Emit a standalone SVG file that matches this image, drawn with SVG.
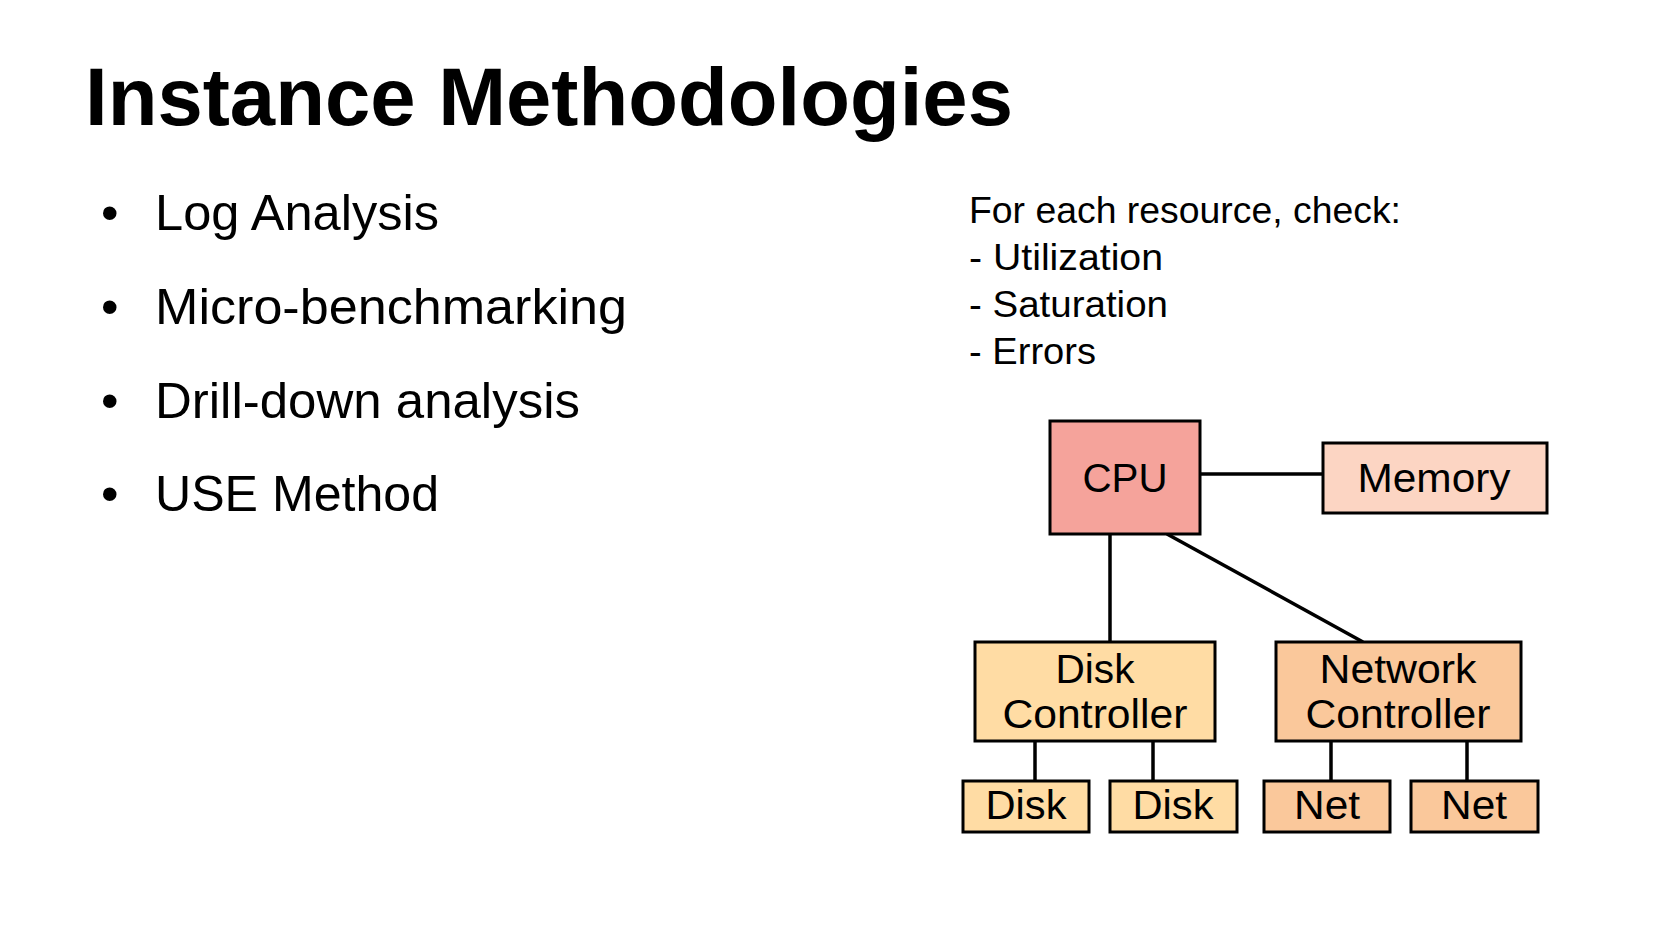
<svg xmlns="http://www.w3.org/2000/svg" width="1654" height="931" viewBox="0 0 1654 931">
<style>
text{font-family:"Liberation Sans",Arial,sans-serif;fill:#000}
.title{font-size:81px;font-weight:bold}
.bullet{font-size:50px}
.note{font-size:37px}
.lbl{font-size:40px;text-anchor:middle}
.box{stroke:#000;stroke-width:3}
.cpu{fill:#F5A39B}
.mem{fill:#FCD5C3}
.disk{fill:#FFDCA4}
.net{fill:#FAC89B}
#connectors line{stroke:#000;stroke-width:3.5}
</style>
<rect width="1654" height="931" fill="#fff"/>
<text class="title" x="85" y="125" textLength="928" lengthAdjust="spacingAndGlyphs">Instance Methodologies</text>
<g id="bullets" class="bullet">
<text x="101" y="230">•</text><text x="155" y="230" textLength="284" lengthAdjust="spacingAndGlyphs">Log Analysis</text>
<text x="101" y="324">•</text><text x="155" y="324" textLength="472" lengthAdjust="spacingAndGlyphs">Micro-benchmarking</text>
<text x="101" y="418">•</text><text x="155" y="418" textLength="425" lengthAdjust="spacingAndGlyphs">Drill-down analysis</text>
<text x="101" y="511">•</text><text x="155" y="511" textLength="284" lengthAdjust="spacingAndGlyphs">USE Method</text>
</g>
<g id="note" class="note">
<text x="969" y="223" textLength="432" lengthAdjust="spacingAndGlyphs">For each resource, check:</text>
<text x="969" y="270" textLength="194" lengthAdjust="spacingAndGlyphs">- Utilization</text>
<text x="969" y="317" textLength="199" lengthAdjust="spacingAndGlyphs">- Saturation</text>
<text x="969" y="364" textLength="127" lengthAdjust="spacingAndGlyphs">- Errors</text>
</g>
<g id="connectors">
<line x1="1200" y1="474" x2="1323" y2="474"/>
<line x1="1110" y1="534" x2="1110" y2="642"/>
<line x1="1167" y1="534" x2="1363" y2="642"/>
<line x1="1035" y1="741" x2="1035" y2="781"/>
<line x1="1153" y1="741" x2="1153" y2="781"/>
<line x1="1331" y1="741" x2="1331" y2="781"/>
<line x1="1467" y1="741" x2="1467" y2="781"/>
</g>
<g id="cpu"><rect class="box cpu" x="1050" y="421" width="150" height="113"/><text class="lbl" x="1125" y="492" textLength="85" lengthAdjust="spacingAndGlyphs">CPU</text></g>
<g id="memory"><rect class="box mem" x="1323" y="443" width="224" height="70"/><text class="lbl" x="1434" y="492" textLength="153" lengthAdjust="spacingAndGlyphs">Memory</text></g>
<g id="disk-controller"><rect class="box disk" x="975" y="642" width="240" height="99"/><text class="lbl" x="1095" y="683" textLength="79" lengthAdjust="spacingAndGlyphs">Disk</text><text class="lbl" x="1095" y="728" textLength="185" lengthAdjust="spacingAndGlyphs">Controller</text></g>
<g id="network-controller"><rect class="box net" x="1276" y="642" width="245" height="99"/><text class="lbl" x="1398" y="683" textLength="157" lengthAdjust="spacingAndGlyphs">Network</text><text class="lbl" x="1398" y="728" textLength="185" lengthAdjust="spacingAndGlyphs">Controller</text></g>
<g id="disk1"><rect class="box disk" x="963" y="781" width="126" height="51"/><text class="lbl" x="1026" y="819" textLength="81" lengthAdjust="spacingAndGlyphs">Disk</text></g>
<g id="disk2"><rect class="box disk" x="1110" y="781" width="127" height="51"/><text class="lbl" x="1173" y="819" textLength="81" lengthAdjust="spacingAndGlyphs">Disk</text></g>
<g id="net1"><rect class="box net" x="1264" y="781" width="126" height="51"/><text class="lbl" x="1327" y="819" textLength="66" lengthAdjust="spacingAndGlyphs">Net</text></g>
<g id="net2"><rect class="box net" x="1411" y="781" width="127" height="51"/><text class="lbl" x="1474" y="819" textLength="66" lengthAdjust="spacingAndGlyphs">Net</text></g>
</svg>
